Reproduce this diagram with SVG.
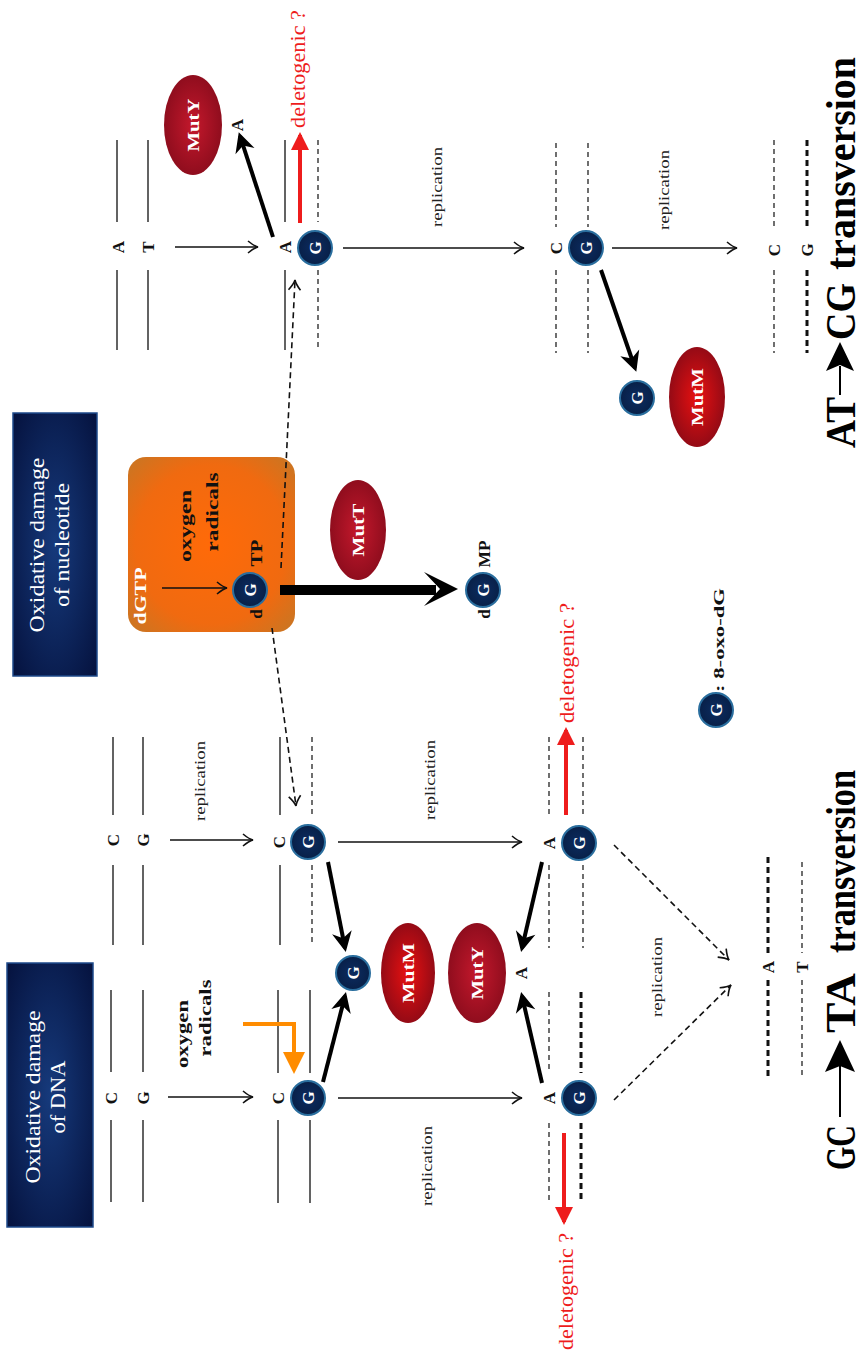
<svg xmlns="http://www.w3.org/2000/svg" width="868" height="1354" viewBox="0 0 868 1354">
<style>
text{font-family:"Liberation Serif","Times New Roman",serif}
.lt{font-weight:bold;font-size:17px;text-anchor:middle;dominant-baseline:central;fill:#111}
.gt{font-weight:bold;font-size:17px;text-anchor:middle;dominant-baseline:central;fill:#fff}
.rep{font-size:15px;text-anchor:middle;dominant-baseline:central;fill:#222}
.del{font-size:20px;fill:#ee1c1c;dominant-baseline:central}
.big{font-size:42px;font-weight:bold;fill:#000}
.hdr{font-size:21px;fill:#fff;text-anchor:middle;dominant-baseline:central}
.oxy{font-size:17px;font-weight:bold;fill:#111;text-anchor:middle;dominant-baseline:central}
.enz{font-size:16px;font-weight:bold;fill:#fff;text-anchor:middle;dominant-baseline:central}
.s{stroke:#222;stroke-width:1.4;fill:none}
.dt{stroke:#222;stroke-width:1.3;stroke-dasharray:5 4;fill:none}
.db{stroke:#111;stroke-width:3;stroke-dasharray:6 4;fill:none}
.thin{stroke:#111;stroke-width:1.5;fill:none;marker-end:url(#open)}
.dash{stroke:#111;stroke-width:1.6;stroke-dasharray:6 4;fill:none;marker-end:url(#open)}
.bold{stroke:#000;stroke-width:4;fill:none;marker-end:url(#bk)}
.red{stroke:#ee1c1c;stroke-width:4;fill:none;marker-end:url(#rd)}
.gc{fill:url(#gG);stroke:#2a6e9e;stroke-width:2}
</style>
<defs>
<radialGradient id="gNavy" cx="50%" cy="50%" r="70%">
<stop offset="0" stop-color="#163a7c"/><stop offset="1" stop-color="#05123e"/>
</radialGradient>
<radialGradient id="gOr" cx="50%" cy="50%" r="65%">
<stop offset="0" stop-color="#ff6a08"/><stop offset="0.7" stop-color="#f06a10"/><stop offset="1" stop-color="#cf7420"/>
</radialGradient>
<radialGradient id="gRed" cx="50%" cy="50%" r="55%">
<stop offset="0" stop-color="#e81010"/><stop offset="1" stop-color="#8c0a16"/>
</radialGradient>
<radialGradient id="gRed2" cx="50%" cy="50%" r="55%">
<stop offset="0" stop-color="#c4182c"/><stop offset="1" stop-color="#8a0c1c"/>
</radialGradient>
<radialGradient id="gG" cx="50%" cy="50%" r="50%">
<stop offset="0" stop-color="#0c2c60"/><stop offset="1" stop-color="#082048"/>
</radialGradient>
<marker id="open" markerUnits="userSpaceOnUse" viewBox="-12 -8 14 16" refX="0" refY="0" markerWidth="14" markerHeight="16" orient="auto">
<path d="M-10,-6 Q-4,-1 0,0 Q-4,1 -10,6" fill="none" stroke="#111" stroke-width="1.6"/>
</marker>
<marker id="bk" markerUnits="userSpaceOnUse" viewBox="-22 -12 26 24" refX="-4" refY="0" markerWidth="26" markerHeight="24" orient="auto">
<path d="M0,0 L-20,-10 L-14,0 L-20,10 Z" fill="#000"/>
</marker>
<marker id="rd" markerUnits="userSpaceOnUse" viewBox="-20 -10 24 20" refX="-3" refY="0" markerWidth="24" markerHeight="20" orient="auto">
<path d="M0,0 L-18,-9 L-18,9 Z" fill="#ee1c1c"/>
</marker>
</defs>

<!-- header boxes -->
<g id="box-dna">
<rect x="7" y="963" width="86" height="264" fill="url(#gNavy)" stroke="#1e4a8a" stroke-width="1.5"/>
<text class="hdr" transform="translate(33,1097) rotate(-90)" textLength="173" lengthAdjust="spacingAndGlyphs">Oxidative damage</text>
<text class="hdr" transform="translate(58,1097) rotate(-90)" textLength="73" lengthAdjust="spacingAndGlyphs">of DNA</text>
</g>
<g id="box-nucleotide">
<rect x="13" y="413" width="84" height="263" fill="url(#gNavy)" stroke="#1e4a8a" stroke-width="1.5"/>
<text class="hdr" transform="translate(37,545) rotate(-90)" textLength="175" lengthAdjust="spacingAndGlyphs">Oxidative damage</text>
<text class="hdr" transform="translate(62,545) rotate(-90)" textLength="124" lengthAdjust="spacingAndGlyphs">of nucleotide</text>
</g>

<!-- orange dGTP box -->
<g id="dgtp-box">
<rect x="128" y="457" width="167" height="175" rx="18" fill="url(#gOr)"/>
<text class="oxy" transform="translate(140,596) rotate(-90)" style="fill:#fff" textLength="57" lengthAdjust="spacingAndGlyphs">dGTP</text>
<text class="oxy" transform="translate(185,526) rotate(-90)" textLength="72" lengthAdjust="spacingAndGlyphs">oxygen</text>
<text class="oxy" transform="translate(212,512) rotate(-90)" textLength="79" lengthAdjust="spacingAndGlyphs">radicals</text>
<text class="oxy" transform="translate(256,553) rotate(-90)" textLength="27" lengthAdjust="spacingAndGlyphs">TP</text>
<text class="oxy" transform="translate(256,614) rotate(-90)">d</text>
</g>

<!-- strands -->
<g id="strands">
<path class="s" d="M111,990V1072M111,1120V1202M143,990V1072M143,1120V1202"/>
<path class="s" d="M278,990V1073M278,1120V1203M310,990V1073M310,1120V1203"/>
<path class="dt" d="M549,992V1073M549,1123V1203"/>
<path class="db" d="M581,992V1073M581,1123V1203"/>
<path class="db" d="M768,857V953M768,980V1078"/>
<path class="dt" d="M802,862V953M802,980V1075"/>
<path class="s" d="M113,737V815M113,865V945M143,737V815M143,865V945"/>
<path class="s" d="M280,737V815M280,865V945"/>
<path class="dt" d="M312,737V815M312,865V945"/>
<path class="dt" d="M549,737V818M549,865V948"/>
<path class="dt" d="M583,737V818M583,865V948"/>
<path class="s" d="M117,140V222M117,270V350M148,140V222M148,270V350"/>
<path class="s" d="M285,140V222M285,270V350"/>
<path class="dt" d="M318,140V222M318,270V350"/>
<path class="dt" d="M556,143V227M556,270V353M588,143V227M588,270V353"/>
<path class="dt" d="M774,140V227M774,270V353"/>
<path class="db" d="M807,140V227M807,270V353"/>
</g>

<!-- connectors -->
<g id="connectors">
<line class="thin" x1="168" y1="1097" x2="253" y2="1097"/>
<line class="thin" x1="338" y1="1098" x2="522" y2="1098"/>
<line class="thin" x1="170" y1="840" x2="253" y2="840"/>
<line class="thin" x1="338" y1="842" x2="522" y2="842"/>
<line class="thin" x1="175" y1="247" x2="258" y2="247"/>
<line class="thin" x1="343" y1="248" x2="524" y2="248"/>
<line class="thin" x1="612" y1="248" x2="737" y2="248"/>
<line class="thin" x1="162" y1="588" x2="227" y2="588"/>
<line class="dash" x1="614" y1="1100" x2="731" y2="985"/>
<line class="dash" x1="614" y1="845" x2="729" y2="960"/>
<line class="dash" x1="281" y1="568" x2="295" y2="280"/>
<line class="dash" x1="272" y1="628" x2="296" y2="806"/>
<line class="bold" x1="323" y1="1082" x2="345" y2="996"/>
<line class="bold" x1="328" y1="862" x2="345" y2="948"/>
<line class="bold" x1="542" y1="1083" x2="522" y2="996"/>
<line class="bold" x1="542" y1="862" x2="522" y2="948"/>
<line class="bold" x1="273" y1="237" x2="240" y2="136"/>
<line class="bold" x1="601" y1="270" x2="635" y2="368"/>
<line class="red" x1="564" y1="1133" x2="564" y2="1222"/>
<line class="red" x1="566" y1="815" x2="566" y2="730"/>
<line class="red" x1="300" y1="223" x2="300" y2="135"/>
<path d="M243,1024H294V1056" fill="none" stroke="#ff8c00" stroke-width="4"/>
<path d="M283,1052H305L294,1074Z" fill="#ff8c00"/>
<line x1="280" y1="590" x2="436" y2="590" stroke="#000" stroke-width="10"/>
<path d="M458,589L424,572L440,589L424,606Z" fill="#000"/>
</g>

<!-- 8-oxo-dG circles -->
<g id="oxoG">
<circle class="gc" cx="308" cy="1098" r="17"/><text class="gt" transform="translate(308,1098) rotate(-90)">G</text>
<circle class="gc" cx="353" cy="973" r="17"/><text class="gt" transform="translate(353,973) rotate(-90)">G</text>
<circle class="gc" cx="579" cy="1098" r="17"/><text class="gt" transform="translate(579,1098) rotate(-90)">G</text>
<circle class="gc" cx="308" cy="842" r="17"/><text class="gt" transform="translate(308,842) rotate(-90)">G</text>
<circle class="gc" cx="579" cy="843" r="17"/><text class="gt" transform="translate(579,843) rotate(-90)">G</text>
<circle class="gc" cx="315" cy="248" r="17"/><text class="gt" transform="translate(315,248) rotate(-90)">G</text>
<circle class="gc" cx="586" cy="248" r="17"/><text class="gt" transform="translate(586,248) rotate(-90)">G</text>
<circle class="gc" cx="637" cy="398" r="17"/><text class="gt" transform="translate(637,398) rotate(-90)">G</text>
<circle class="gc" cx="250" cy="590" r="17"/><text class="gt" transform="translate(250,590) rotate(-90)">G</text>
<circle class="gc" cx="483" cy="590" r="17"/><text class="gt" transform="translate(483,590) rotate(-90)">G</text>
</g>

<!-- base letters -->
<g id="bases">
<text class="lt" transform="translate(111,1098) rotate(-90)">C</text>
<text class="lt" transform="translate(143,1098) rotate(-90)">G</text>
<text class="lt" transform="translate(278,1098) rotate(-90)">C</text>
<text class="lt" transform="translate(549,1098) rotate(-90)">A</text>
<text class="lt" transform="translate(521,973) rotate(-90)">A</text>
<text class="lt" transform="translate(768,967) rotate(-90)">A</text>
<text class="lt" transform="translate(802,967) rotate(-90)">T</text>
<text class="lt" transform="translate(113,840) rotate(-90)">C</text>
<text class="lt" transform="translate(143,840) rotate(-90)">G</text>
<text class="lt" transform="translate(279,842) rotate(-90)">C</text>
<text class="lt" transform="translate(549,843) rotate(-90)">A</text>
<text class="lt" transform="translate(118,247) rotate(-90)">A</text>
<text class="lt" transform="translate(148,247) rotate(-90)">T</text>
<text class="lt" transform="translate(285,247) rotate(-90)">A</text>
<text class="lt" transform="translate(237,125) rotate(-90)">A</text>
<text class="lt" transform="translate(556,248) rotate(-90)">C</text>
<text class="lt" transform="translate(774,250) rotate(-90)">C</text>
<text class="lt" transform="translate(807,250) rotate(-90)">G</text>
<text class="oxy" transform="translate(484,554) rotate(-90)" textLength="27" lengthAdjust="spacingAndGlyphs">MP</text>
<text class="oxy" transform="translate(484,614) rotate(-90)">d</text>
</g>

<!-- enzymes -->
<g id="MutM-left"><ellipse cx="408" cy="973" rx="27" ry="50" fill="url(#gRed)"/><text class="enz" transform="translate(408,973) rotate(-90)" textLength="60" lengthAdjust="spacingAndGlyphs">MutM</text></g>
<g id="MutY-left"><ellipse cx="477" cy="973" rx="29" ry="50" fill="url(#gRed2)"/><text class="enz" transform="translate(477,973) rotate(-90)" textLength="53" lengthAdjust="spacingAndGlyphs">MutY</text></g>
<g id="MutT"><ellipse cx="358" cy="530" rx="28" ry="50" fill="url(#gRed2)"/><text class="enz" transform="translate(358,530) rotate(-90)" textLength="53" lengthAdjust="spacingAndGlyphs">MutT</text></g>
<g id="MutY-right"><ellipse cx="193" cy="125" rx="29" ry="50" fill="url(#gRed2)"/><text class="enz" transform="translate(193,125) rotate(-90)" textLength="53" lengthAdjust="spacingAndGlyphs">MutY</text></g>
<g id="MutM-right"><ellipse cx="697" cy="397" rx="28" ry="50" fill="url(#gRed)"/><text class="enz" transform="translate(697,397) rotate(-90)" textLength="58" lengthAdjust="spacingAndGlyphs">MutM</text></g>

<!-- labels -->
<g id="labels">
<text class="oxy" transform="translate(182,1034) rotate(-90)" textLength="68" lengthAdjust="spacingAndGlyphs">oxygen</text>
<text class="oxy" transform="translate(205,1018) rotate(-90)" textLength="77" lengthAdjust="spacingAndGlyphs">radicals</text>
<text class="rep" transform="translate(427,1166) rotate(-90)" textLength="80" lengthAdjust="spacingAndGlyphs">replication</text>
<text class="rep" transform="translate(657,977) rotate(-90)" textLength="80" lengthAdjust="spacingAndGlyphs">replication</text>
<text class="rep" transform="translate(200,781) rotate(-90)" textLength="80" lengthAdjust="spacingAndGlyphs">replication</text>
<text class="rep" transform="translate(430,780) rotate(-90)" textLength="80" lengthAdjust="spacingAndGlyphs">replication</text>
<text class="rep" transform="translate(437,187) rotate(-90)" textLength="80" lengthAdjust="spacingAndGlyphs">replication</text>
<text class="rep" transform="translate(664,190) rotate(-90)" textLength="80" lengthAdjust="spacingAndGlyphs">replication</text>
<text class="del" transform="translate(566,1350) rotate(-90)" textLength="117" lengthAdjust="spacingAndGlyphs">deletogenic ?</text>
<text class="del" transform="translate(567,723) rotate(-90)" textLength="120" lengthAdjust="spacingAndGlyphs">deletogenic ?</text>
<text class="del" transform="translate(298,128) rotate(-90)" textLength="118" lengthAdjust="spacingAndGlyphs">deletogenic ?</text>
</g>

<!-- legend -->
<g id="legend">
<circle class="gc" cx="716" cy="710" r="17"/><text class="gt" transform="translate(716,710) rotate(-90)">G</text>
<text class="oxy" style="font-size:14px;text-anchor:start" transform="translate(719,692) rotate(-90)" textLength="104" lengthAdjust="spacingAndGlyphs">: 8-oxo-dG</text>
</g>

<!-- transversion titles -->
<g id="title-GC-TA">
<text class="big" transform="translate(855,1170) rotate(-90)" textLength="45" lengthAdjust="spacingAndGlyphs">GC</text>
<line x1="840" y1="1117" x2="840" y2="1066" stroke="#000" stroke-width="2"/>
<path d="M840,1040L825,1072L840,1066L855,1072Z" fill="#000"/>
<text class="big" transform="translate(855,1033) rotate(-90)" textLength="60" lengthAdjust="spacingAndGlyphs">TA</text>
<text class="big" transform="translate(855,953) rotate(-90)" textLength="183" lengthAdjust="spacingAndGlyphs">transversion</text>
</g>
<g id="title-AT-CG">
<text class="big" transform="translate(855,448) rotate(-90)" textLength="51" lengthAdjust="spacingAndGlyphs">AT</text>
<line x1="840" y1="395" x2="840" y2="366" stroke="#000" stroke-width="2"/>
<path d="M840,342L826,371L840,365L854,371Z" fill="#000"/>
<text class="big" transform="translate(855,340) rotate(-90)" textLength="57" lengthAdjust="spacingAndGlyphs">CG</text>
<text class="big" transform="translate(855,270) rotate(-90)" textLength="213" lengthAdjust="spacingAndGlyphs">transversion</text>
</g>
</svg>
